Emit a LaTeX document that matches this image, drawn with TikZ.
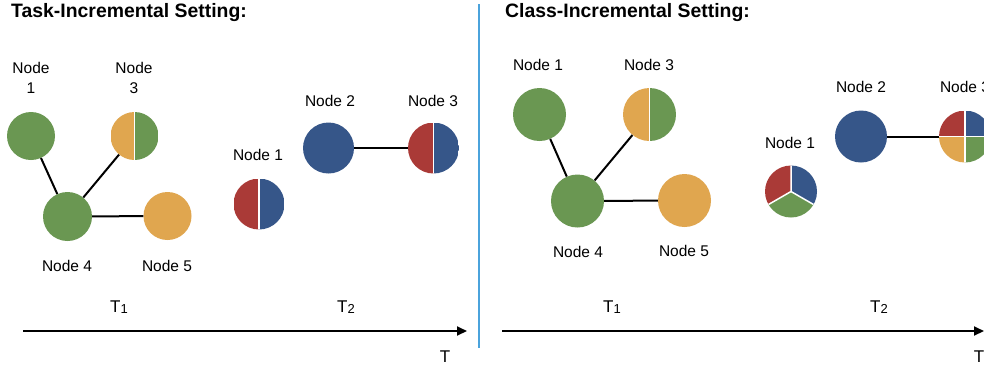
\documentclass[tikz,border=0pt]{standalone}
\usepackage{fontspec}
\setmainfont{Liberation Sans}
\usetikzlibrary{arrows.meta,calc}
\definecolor{cgreen}{HTML}{6A9752}
\definecolor{corange}{HTML}{E0A64F}
\definecolor{cblue}{HTML}{365689}
\definecolor{cred}{HTML}{AA3A37}
\definecolor{cline}{HTML}{4BA3DC}
\tikzset{
  disc/.style={circle, inner sep=0pt, minimum size=#1},
  gdisc/.style={disc=#1, fill=cgreen},
  odisc/.style={disc=#1, fill=corange},
  bdisc/.style={disc=#1, fill=cblue},
  halfOG/.style={disc=#1, path picture={
    \fill[corange] (path picture bounding box.south) rectangle (path picture bounding box.north west);
    \fill[cgreen] (path picture bounding box.south) rectangle (path picture bounding box.north east);
    \draw[white, line width=1.5pt] (path picture bounding box.south) -- (path picture bounding box.north);}},
  halfRB/.style={disc=#1, path picture={
    \fill[cred] (path picture bounding box.south) rectangle (path picture bounding box.north west);
    \fill[cblue] (path picture bounding box.south) rectangle (path picture bounding box.north east);
    \draw[white, line width=1.5pt] (path picture bounding box.south) -- (path picture bounding box.north);}},
  thirdRBG/.style={disc=#1, path picture={
    \coordinate (pc) at (path picture bounding box.center);
    \fill[cred] (pc) -- ++(90:40pt) -- ($(pc)+(150:40pt)$) -- ($(pc)+(210:40pt)$) -- cycle;
    \fill[cblue] (pc) -- ++(90:40pt) -- ($(pc)+(30:40pt)$) -- ($(pc)+(-30:40pt)$) -- cycle;
    \fill[cgreen] (pc) -- ++(210:40pt) -- ($(pc)+(270:40pt)$) -- ($(pc)+(330:40pt)$) -- cycle;
    \draw[white, line width=1.5pt] (pc) -- ++(90:40pt) (pc) -- ++(210:40pt) (pc) -- ++(330:40pt);}},
  quadRBOG/.style={disc=#1, path picture={
    \coordinate (pc) at (path picture bounding box.center);
    \fill[cred] (pc) rectangle (path picture bounding box.north west);
    \fill[cblue] (pc) rectangle (path picture bounding box.north east);
    \fill[corange] (pc) rectangle (path picture bounding box.south west);
    \fill[cgreen] (pc) rectangle (path picture bounding box.south east);
    \draw[white, line width=1.5pt] (path picture bounding box.south) -- (path picture bounding box.north)
      (path picture bounding box.west) -- (path picture bounding box.east);}},
  lbl/.style={font=\fontsize{15.5}{20}\selectfont, align=center, inner sep=0pt},
  ttl/.style={font=\fontsize{19.4}{22}\selectfont\bfseries, anchor=base west, inner sep=0pt},
  tl/.style={font=\fontsize{17}{20}\selectfont, inner sep=0pt},
  conn/.style={line width=2pt, black},
  axis/.style={line width=1.8pt, -{Triangle[length=10pt,width=9pt]}},
}
\newcommand{\Tsub}[1]{T\raisebox{-0.5pt}{\fontsize{13}{13}\selectfont #1}}
\begin{document}
\begin{tikzpicture}[x=1pt,y=-1pt]
\useasboundingbox (0,0) rectangle (984,368);
\fill[white] (0,0) rectangle (984,368);
% ---------- left panel ----------
\node[ttl] (ttlL) at (11,17.5) {Task-Incremental Setting:};
\node[gdisc=48pt] (L1) at (31,136) {};
\node[halfOG=48pt] (L3) at (134.5,136) {};
\node[gdisc=49pt] (L4) at (67.5,216.5) {};
\node[odisc=48pt] (L5) at (167.5,216) {};
\draw[conn] (L1) -- (L4);
\draw[conn] (L3) -- (L4);
\draw[conn] (L4) -- (L5);
\node[lbl] (tL1) at (31,78) {Node\\1};
\node[lbl] (tL3) at (134,78) {Node\\3};
\node[lbl] (tL4) at (67,266) {Node 4};
\node[lbl] (tL5) at (167,266) {Node 5};
\node[halfRB=51pt] (Lb1) at (259,204) {};
\node[bdisc=51pt] (Lb2) at (328.5,148) {};
\node[halfRB=51pt] (Lb3) at (433.5,148) {};
\draw[conn] (Lb2) -- (Lb3);
\node[lbl] (tLb1) at (258,155) {Node 1};
\node[lbl] (tLb2) at (330,101) {Node 2};
\node[lbl] (tLb3) at (433,101) {Node 3};
\node[tl] (T1L) at (119,307) {\Tsub{1}};
\node[tl] (T2L) at (346,307) {\Tsub{2}};
\coordinate (aLs) at (23,331);
\coordinate (aLe) at (467,331);
\draw[axis] (aLs) -- (aLe);
\node[tl] (TL) at (445,357) {T};
% divider
\coordinate (dTop) at (479,4);
\coordinate (dBot) at (479,348);
\draw[cline, line width=1.6pt] (dTop) -- (dBot);
% ---------- right panel ----------
\node[ttl] (ttlR) at (505,17.5) {Class-Incremental Setting:};
\node[gdisc=53pt] (R1) at (539.5,114.5) {};
\node[halfOG=53pt] (R3) at (649.5,114.5) {};
\node[gdisc=53pt] (R4) at (577.5,201) {};
\node[odisc=53pt] (R5) at (684.5,200.5) {};
\draw[conn] (R1) -- (R4);
\draw[conn] (R3) -- (R4);
\draw[conn] (R4) -- (R5);
\node[lbl] (tR1) at (538,65) {Node 1};
\node[lbl] (tR3) at (649,65) {Node 3};
\node[lbl] (tR4) at (578,252) {Node 4};
\node[lbl] (tR5) at (684,251) {Node 5};
\node[thirdRBG=52pt] (Rb1) at (791,191.5) {};
\node[bdisc=52pt] (Rb2) at (861,136.5) {};
\node[quadRBOG=52pt] (Rb3) at (965,136.5) {};
\draw[conn] (Rb2) -- (Rb3);
\node[lbl] (tRb1) at (790,143) {Node 1};
\node[lbl] (tRb2) at (861,87) {Node 2};
\node[lbl] (tRb3) at (965,87) {Node 3};
\node[tl] (T1R) at (612,307) {\Tsub{1}};
\node[tl] (T2R) at (879,307) {\Tsub{2}};
\coordinate (aRs) at (502,331);
\coordinate (aRe) at (984,331);
\draw[axis] (aRs) -- (aRe);
\node[tl] (TR) at (979,357) {T};
\end{tikzpicture}
\end{document}
